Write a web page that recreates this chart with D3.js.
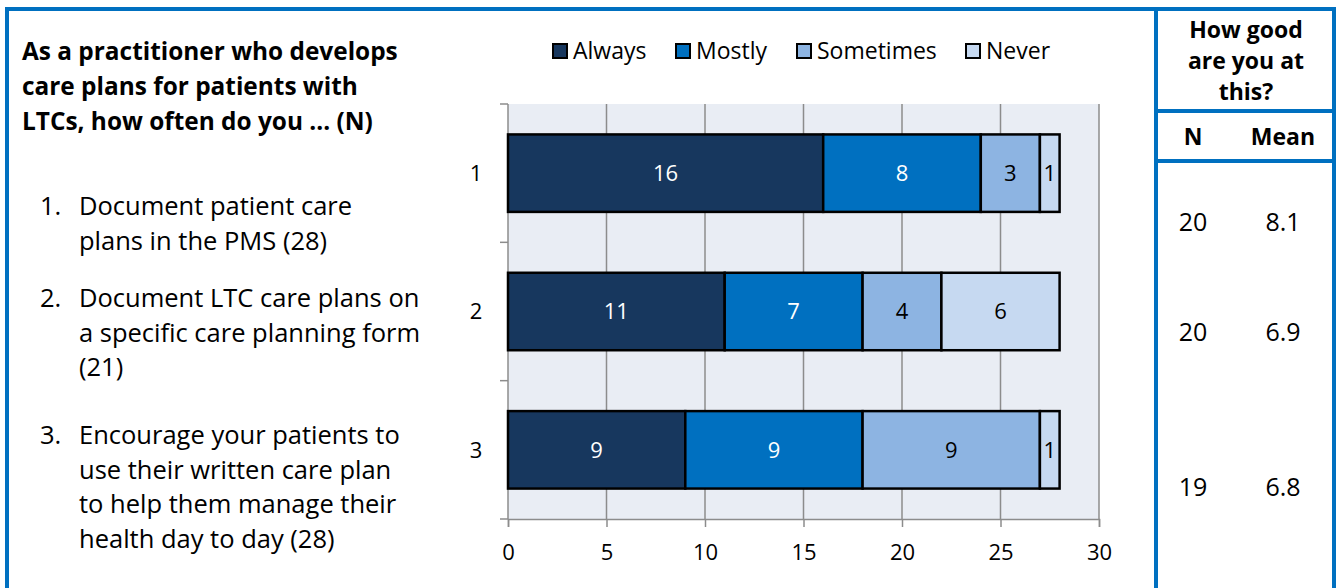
<!DOCTYPE html>
<html>
<head>
<meta charset="utf-8">
<script src="https://cdn.jsdelivr.net/npm/d3@7"></script>
<style>
  body { margin: 0; background: #fff; }
  svg { display: block; font-family: "Open Sans", Lato, sans-serif; }
</style>
</head>
<body>
<script>
// 护理计划问卷 - 堆叠条形图
var categories = ["1", "2", "3"];
var seriesNames = ["Always", "Mostly", "Sometimes", "Never"];
var always = [16, 11, 9];
var mostly = [8, 7, 9];
var sometimes = [3, 4, 9];
var never = [1, 6, 1];
var xTicks = [0, 5, 10, 15, 20, 25, 30];
var tableN = [20, 20, 19];
var tableMean = ["8.1", "6.9", "6.8"];
var titleLines = ["As a practitioner who develops", "care plans for patients with", "LTCs, how often do you ... (N)"];
var items = [
  ["Document patient care", "plans in the PMS (28)"],
  ["Document LTC care plans on", "a specific care planning form", "(21)"],
  ["Encourage your patients to", "use their written care plan", "to help them manage their", "health day to day (28)"]
];

var colors = ["#17375E", "#0070C0", "#8DB4E2", "#C6D9F1"];
var textColors = ["#fff", "#fff", "#000", "#000"];

var W = 1341, H = 588;
var svg = d3.select("body").append("svg").attr("width", W).attr("height", H);

// 外框
var blue = "#0070C0";
svg.append("rect").attr("x", 7).attr("y", 9).attr("width", 1327).attr("height", 600)
  .attr("fill", "none").attr("stroke", blue).attr("stroke-width", 4);
svg.append("line").attr("x1", 1156).attr("x2", 1156).attr("y1", 9).attr("y2", H)
  .attr("stroke", blue).attr("stroke-width", 4);
svg.append("line").attr("x1", 1156).attr("x2", 1334).attr("y1", 111).attr("y2", 111)
  .attr("stroke", blue).attr("stroke-width", 4);
svg.append("line").attr("x1", 1156).attr("x2", 1334).attr("y1", 161).attr("y2", 161)
  .attr("stroke", blue).attr("stroke-width", 4);

// 左侧标题
svg.append("g").selectAll("text").data(titleLines).enter().append("text")
  .attr("x", 22).attr("y", (d, i) => 60 + i * 35)
  .attr("font-size", 24.4).attr("font-weight", "bold").attr("fill", "#000")
  .text(d => d);

// 左侧列表
var itemTop = [215, 307, 444];
items.forEach(function (lines, k) {
  svg.append("text").attr("x", 40).attr("y", itemTop[k])
    .attr("font-size", 25.5).text((k + 1) + ".");
  lines.forEach(function (l, j) {
    svg.append("text").attr("x", 79).attr("y", itemTop[k] + j * 34.5)
      .attr("font-size", 25.5).text(l);
  });
});

// 图表区域
var plot = { left: 508, right: 1099, top: 104, bottom: 519 };
var x = d3.scaleLinear().domain([0, 30]).range([plot.left, plot.right]);
var y = d3.scaleBand().domain(categories).range([plot.top, plot.bottom]).paddingInner(0.44).paddingOuter(0.22);

svg.append("rect").attr("x", plot.left).attr("y", plot.top)
  .attr("width", plot.right - plot.left).attr("height", plot.bottom - plot.top)
  .attr("fill", "#E9EDF4");

// 网格线
svg.append("g").selectAll("line").data(xTicks.slice(1)).enter().append("line")
  .attr("x1", d => x(d)).attr("x2", d => x(d))
  .attr("y1", plot.top).attr("y2", plot.bottom)
  .attr("stroke", "#8C8C8C").attr("stroke-width", 1.5);

// 坐标轴
var xAxis = svg.append("g").attr("transform", "translate(0," + plot.bottom + ")")
  .call(d3.axisBottom(x).tickValues(xTicks).tickSize(8).tickPadding(17));
var yBoundaries = d3.range(categories.length + 1).map(i => plot.top + i * (plot.bottom - plot.top) / categories.length);
var yAxis = svg.append("g");
yAxis.append("line").attr("x1", plot.left).attr("x2", plot.left).attr("y1", plot.top).attr("y2", plot.bottom)
  .attr("stroke", "#8C8C8C").attr("stroke-width", 1.5);
yAxis.selectAll(".tk").data(yBoundaries).enter().append("line")
  .attr("x1", plot.left - 8).attr("x2", plot.left).attr("y1", d => d).attr("y2", d => d)
  .attr("stroke", "#8C8C8C").attr("stroke-width", 1.5);
yAxis.selectAll(".lb").data(categories).enter().append("text")
  .attr("x", 476).attr("y", d => y(d) + y.bandwidth() / 2).attr("dy", "0.35em")
  .attr("text-anchor", "middle").attr("font-size", 22).text(d => d);

xAxis.selectAll("path").attr("stroke", "#8C8C8C").attr("stroke-width", 1.5);
xAxis.selectAll("line").attr("stroke", "#8C8C8C").attr("stroke-width", 1.5);
xAxis.selectAll("text").attr("font-size", 22).attr("fill", "#000").attr("font-family", "'Open Sans', sans-serif");

// 堆叠数据
var rows = categories.map((c, i) => ({ cat: c, Always: always[i], Mostly: mostly[i], Sometimes: sometimes[i], Never: never[i] }));
var stacked = d3.stack().keys(seriesNames)(rows);

var layers = svg.append("g").selectAll("g").data(stacked).enter().append("g")
  .attr("fill", (d, i) => colors[i]);
layers.selectAll("rect").data(d => d).enter().append("rect")
  .attr("x", d => x(d[0])).attr("y", d => y(d.data.cat))
  .attr("width", d => x(d[1]) - x(d[0])).attr("height", y.bandwidth())
  .attr("stroke", "#000").attr("stroke-width", 2.5);

// 数据标签
stacked.forEach(function (layer, li) {
  svg.append("g").selectAll("text").data(layer).enter().append("text")
    .attr("x", d => (x(d[0]) + x(d[1])) / 2)
    .attr("y", d => y(d.data.cat) + y.bandwidth() / 2).attr("dy", "0.35em")
    .attr("text-anchor", "middle").attr("font-size", 22)
    .attr("fill", textColors[li]).text(d => d[1] - d[0]);
});

// 图例
var legendX = [553, 676, 797, 966];
var legend = svg.append("g").selectAll("g").data(seriesNames).enter().append("g")
  .attr("transform", (d, i) => "translate(" + legendX[i] + ",43)");
legend.append("rect").attr("width", 14).attr("height", 14).attr("y", 1)
  .attr("fill", (d, i) => colors[i]).attr("stroke", "#000").attr("stroke-width", 2);
legend.append("text").attr("x", 20).attr("y", 8).attr("dy", "0.35em")
  .attr("font-size", 23).text(d => d);

// 右侧表格
var tx = 1246;
["How good", "are you at", "this?"].forEach(function (t, i) {
  svg.append("text").attr("x", tx).attr("y", 38 + i * 31).attr("text-anchor", "middle")
    .attr("font-size", 23).attr("font-weight", "bold").text(t);
});
svg.append("text").attr("x", 1193).attr("y", 145).attr("text-anchor", "middle")
  .attr("font-size", 23).attr("font-weight", "bold").text("N");
svg.append("text").attr("x", 1283).attr("y", 145).attr("text-anchor", "middle")
  .attr("font-size", 23).attr("font-weight", "bold").text("Mean");
var rowY = [222, 332, 487];
svg.append("g").selectAll("text").data(tableN).enter().append("text")
  .attr("x", 1193).attr("y", (d, i) => rowY[i]).attr("dy", "0.35em").attr("text-anchor", "middle")
  .attr("font-size", 25).text(d => d);
svg.append("g").selectAll("text").data(tableMean).enter().append("text")
  .attr("x", 1283).attr("y", (d, i) => rowY[i]).attr("dy", "0.35em").attr("text-anchor", "middle")
  .attr("font-size", 25).text(d => d);
</script>
</body>
</html>
